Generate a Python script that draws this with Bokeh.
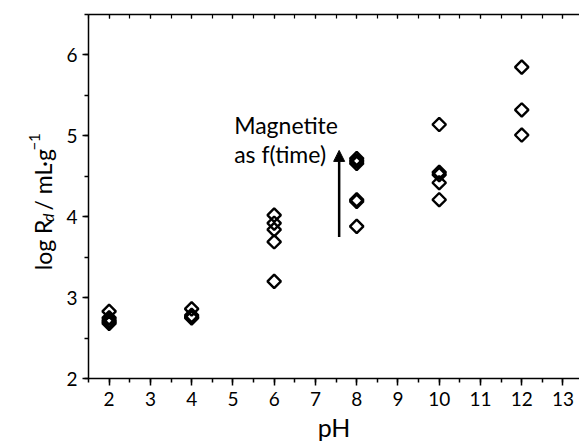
from bokeh.plotting import figure
from bokeh.models import (Range1d, LinearAxis, SingleIntervalTicker, Label, Arrow,
                          NormalHead, ColumnDataSource, CustomJSTickFormatter)
from bokeh.layouts import row
from bokeh.core.properties import value
from bokeh.embed import file_html
from bokeh.resources import INLINE
import math

# ---- data ----
ph_2 = [2, 2, 2, 2, 2]
rd_2 = [2.83, 2.75, 2.72, 2.70, 2.68]
ph_4 = [4, 4, 4, 4]
rd_4 = [2.86, 2.78, 2.76, 2.75]
ph_6 = [6, 6, 6, 6, 6]
rd_6 = [4.02, 3.92, 3.84, 3.69, 3.20]
ph_8 = [8, 8, 8, 8, 8, 8]
rd_8 = [4.72, 4.69, 4.66, 4.21, 4.19, 3.88]
ph_10 = [10, 10, 10, 10, 10]
rd_10 = [5.14, 4.55, 4.52, 4.42, 4.21]
ph_12 = [12, 12, 12]
rd_12 = [5.85, 5.32, 5.01]

annot_lines = ["Magnetite", "as f(time)"]
arrow_x = 7.575
arrow_from = 3.75
arrow_to = 4.82
ylabel_parts = ["log R", "d", "/ mL·g", "\u22121"]

FONT = "Lato"
LEFT_W = 60

# ---- left strip carrying the composite y-axis label ----
lp = figure(width=LEFT_W, height=444, output_backend="svg", toolbar_location=None,
            x_range=Range1d(0, LEFT_W), y_range=Range1d(444, 0),
            min_border=0, min_border_left=0, min_border_right=0,
            min_border_top=0, min_border_bottom=0)
lp.axis.visible = False
lp.grid.visible = False
lp.outline_line_color = None
lp.background_fill_color = "white"
lp.border_fill_color = "white"

rot = math.pi / 2
label_specs = [
    (ylabel_parts[0], 42, 312, "23px", "normal"),
    (ylabel_parts[1], 47, 253, "16px", "italic"),
    (ylabel_parts[2], 42, 239, "23px", "normal"),
    (ylabel_parts[3], 34, 166, "15px", "normal"),
]
for txt, xx, yy, fs, st in label_specs:
    lp.text(x=[xx], y=[yy], text=[txt], angle=rot, text_font=value(FONT),
            text_font_size=fs, text_font_style=st, text_color="black",
            text_baseline="alphabetic", text_align="left")

# ---- main plot ----
p = figure(width=579 - LEFT_W, height=444, output_backend="svg", toolbar_location=None,
           x_range=Range1d(1.5, 13.4), y_range=Range1d(2, 6.5),
           min_border_left=88 - LEFT_W, min_border_right=0, min_border_top=14,
           min_border_bottom=66)
p.outline_line_color = None
p.grid.visible = False
p.background_fill_color = "white"
p.border_fill_color = "white"

# bottom axis
xa = p.xaxis[0]
xa.ticker = SingleIntervalTicker(interval=1, num_minor_ticks=2)
xa.axis_label = "pH"
xa.axis_label_text_font = FONT
xa.axis_label_text_font_size = "25px"
xa.axis_label_text_font_style = "normal"
xa.axis_label_text_color = "black"
xa.axis_label_standoff = 3
xa.major_label_text_font = FONT
xa.major_label_text_font_size = "19px"
xa.major_label_text_color = "black"
xa.major_label_standoff = 6
xa.major_tick_out = 7
xa.major_tick_in = 0
xa.minor_tick_out = 4
xa.minor_tick_in = 0
xa.axis_line_width = 1.5
xa.major_tick_line_width = 1.5
xa.minor_tick_line_width = 1.5
xa.axis_line_color = "black"
xa.major_tick_line_color = "black"
xa.minor_tick_line_color = "black"

# left axis
ya = p.yaxis[0]
ya.ticker = SingleIntervalTicker(interval=1, num_minor_ticks=2)
ya.major_label_text_font = FONT
ya.major_label_text_font_size = "19px"
ya.major_label_text_color = "black"
ya.major_label_standoff = 5
ya.major_tick_out = 6
ya.major_tick_in = 0
ya.minor_tick_out = 4
ya.minor_tick_in = 0
ya.axis_line_width = 1.5
ya.major_tick_line_width = 1.5
ya.minor_tick_line_width = 1.5
ya.axis_line_color = "black"
ya.major_tick_line_color = "black"
ya.minor_tick_line_color = "black"

# top axis (mirror, ticks inward, no labels)
ta = LinearAxis(ticker=SingleIntervalTicker(interval=1, num_minor_ticks=2),
                formatter=CustomJSTickFormatter(code="return ''"),
                major_label_standoff=0,
                major_tick_in=4, major_tick_out=0, minor_tick_in=4, minor_tick_out=0,
                axis_line_width=1.5, major_tick_line_width=1.2, minor_tick_line_width=1.2)
p.add_layout(ta, "above")

# markers
for xs, ys in [(ph_2, rd_2), (ph_4, rd_4), (ph_6, rd_6), (ph_8, rd_8),
               (ph_10, rd_10), (ph_12, rd_12)]:
    src = ColumnDataSource(dict(x=xs, y=ys))
    p.scatter("x", "y", source=src, marker="square", size=9.5, angle=math.pi / 4,
              fill_color=None, line_color="black", line_width=2.4)

# arrow
p.add_layout(Arrow(end=NormalHead(size=11, fill_color="black", line_color="black"),
                   x_start=arrow_x, y_start=arrow_from, x_end=arrow_x, y_end=arrow_to,
                   line_width=2.5, line_color="black"))

# annotation text
p.add_layout(Label(x=5.03, y=5.14, text=annot_lines[0], text_font=FONT,
                   text_font_size="23px", text_color="black", text_baseline="alphabetic"))
p.add_layout(Label(x=5.03, y=4.77, text=annot_lines[1], text_font=FONT,
                   text_font_size="23px", text_color="black", text_baseline="alphabetic"))

layout = row(lp, p, spacing=0)
open("out.html", "w").write(file_html(layout, INLINE))
